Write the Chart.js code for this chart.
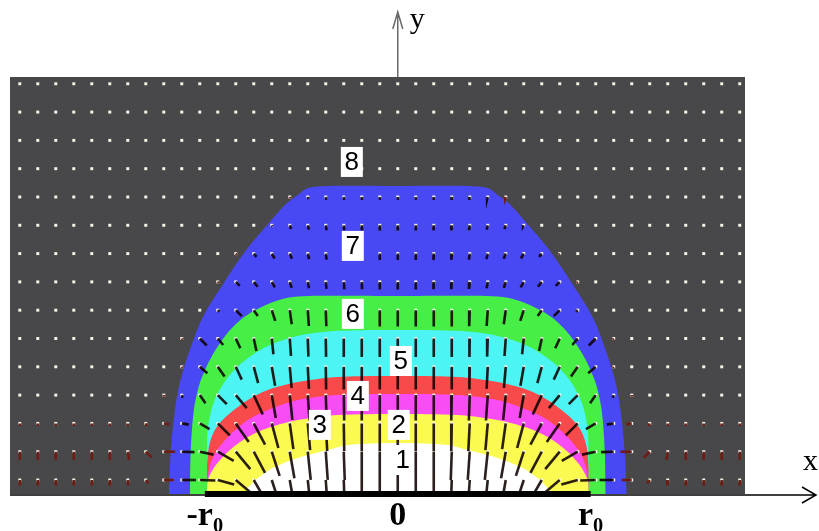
<!DOCTYPE html>
<html>
<head>
<meta charset="utf-8">
<script src="https://cdn.jsdelivr.net/npm/chart.js@4.4.1/dist/chart.umd.min.js"></script>
<style>
  html, body { margin: 0; padding: 0; background: #fff; }
  #wrap { position: relative; width: 819px; height: 531px; }
</style>
</head>
<body>
<div id="wrap"><canvas id="campo"></canvas></div>
<script>
// all distances in units of the disc radius r0
const xMin = -2.01, xMax = 1.80, yMax = 2.16;
const tickVals = [-1, 0, 1];
const tickText = ['-r₀', '0', 'r₀'];

// sampling lattice of the field
const colStep = 0.0933, rowStep = 0.1466, rowStart = 0.0725;
const colFirst = -21, colLast = 19, rowCount = 15;

// level boundaries, right half, [half width, height] from the top down to the disc
const edge7 = [[0, 1.596], [0.363, 1.596], [0.466, 1.585], [0.518, 1.549], [0.585, 1.497], [0.663, 1.409],
  [0.777, 1.275], [0.902, 1.093], [1.010, 0.917], [1.078, 0.746], [1.130, 0.575], [1.155, 0.435], [1.176, 0.228], [1.187, 0]];
const edge6 = [[0, 1.026], [0.466, 1.026], [0.570, 1.016], [0.684, 0.979], [0.803, 0.912], [0.891, 0.824],
  [0.969, 0.705], [1.026, 0.575], [1.057, 0.435], [1.073, 0.228], [1.078, 0]];
const edge5 = [[0, 0.850], [0.311, 0.845], [0.518, 0.819], [0.674, 0.767], [0.803, 0.684], [0.891, 0.591],
  [0.953, 0.477], [0.984, 0.342], [0.990, 0.202], [0.990, 0]];
const edge4 = [[0, 0.611], [0.311, 0.606], [0.518, 0.580], [0.674, 0.539], [0.777, 0.487], [0.881, 0.409],
  [0.948, 0.332], [0.979, 0.244], [0.990, 0.124], [0.990, 0]];
const edge3 = [[0, 0.518], [0.311, 0.513], [0.518, 0.487], [0.674, 0.435], [0.777, 0.383], [0.870, 0.306],
  [0.943, 0.218], [0.979, 0.124], [0.990, 0]];
const edge2 = [[0, 0.415], [0.311, 0.409], [0.518, 0.383], [0.674, 0.342], [0.777, 0.295], [0.870, 0.228],
  [0.943, 0.150], [0.984, 0.073], [0.990, 0]];
const edge1 = [[0, 0.264], [0.259, 0.254], [0.363, 0.228], [0.518, 0.187], [0.648, 0.135], [0.725, 0.083],
  [0.777, 0.031], [0.788, 0]];

const levelEdges = [edge7, edge6, edge5, edge4, edge3, edge2, edge1];
const levelColors = ['#4848f4', '#46ee46', '#4cf4f4', '#f84a4a', '#f84cf4', '#fafa50', '#ffffff'];
const outsideColor = '#48484a';

// field strength (in row steps) and tilt towards the axis (degrees from straight down),
// rows from the disc upward, columns from the axis outward; missing columns carry no field
const fieldLen = [
  [1.0, 1.0, 1.0, 1.0, 1.0, 1.0, 0.95, 0.9, 0.85, 0.75, 0.6, 0.55, 0.5, 0.35, 0.15, 0.2, 0.2, 0.2, 0.2, 0.2, 0.2, 0.2],
  [1.0, 1.0, 1.0, 1.0, 1.0, 1.0, 0.95, 0.9, 0.85, 0.8, 0.65, 0.5, 0.45, 0.4, 0.3, 0.3, 0.3, 0.3, 0.3, 0.3, 0.3, 0.3],
  [0.98, 0.98, 0.98, 0.98, 0.98, 0.95, 0.92, 0.9, 0.85, 0.8, 0.6, 0.4, 0.25, 0.2, 0.1, 0.08, 0.08, 0.08, 0.08, 0.08, 0.08, 0.08],
  [0.9, 0.9, 0.9, 0.9, 0.9, 0.9, 0.88, 0.82, 0.75, 0.6, 0.45, 0.35, 0.1, 0.05],
  [0.8, 0.8, 0.8, 0.8, 0.8, 0.78, 0.75, 0.68, 0.6, 0.5, 0.42, 0.35, 0.05],
  [0.65, 0.65, 0.65, 0.65, 0.65, 0.64, 0.62, 0.56, 0.45, 0.38, 0.3, 0.35, 0.05],
  [0.58, 0.58, 0.58, 0.58, 0.57, 0.56, 0.5, 0.4, 0.25, 0.3, 0.08],
  [0.27, 0.27, 0.26, 0.26, 0.25, 0.23, 0.22, 0.22, 0.22, 0.2, 0.05],
  [0.23, 0.23, 0.23, 0.22, 0.22, 0.2, 0.2, 0.2, 0.15, 0.05],
  [0.18, 0.18, 0.18, 0.18, 0.18, 0.16, 0.14, 0.05],
  [0.1, 0.1, 0.1, 0.1, 0.1, 0.08, 0.05]
];
const fieldTilt = [
  [0, 0, 0, 2, 4, 6, 10, 18, 30, 50, 75, 88, 90, 90, 40, 5],
  [0, 0, 0, 2, 4, 6, 10, 18, 28, 40, 60, 78, 88, 90, 45, 10],
  [0, 0, 0, 1, 3, 5, 8, 15, 28, 35, 45, 60, 80, 80, 20],
  [0, 0, 0, 1, 2, 4, 6, 10, 25, 40, 45, 35, 20],
  [0, 0, 0, 0, 1, 3, 5, 10, 15, 25, 35, 50, 40],
  [0, 0, 0, 0, 1, 2, 4, 6, 12, 25, 40, 45, 40],
  [0, 0, 0, 0, 2, 4, 8, 18, 35, 45, 45],
  [0, 0, 2, 4, 6, 10, 18, 30, 38, 45, 45],
  [0, 0, 2, 4, 8, 14, 22, 30, 40, 45],
  [0, 0, 2, 5, 10, 15, 20, 30],
  [0, 0, 3, 6, 10, 15, 20]
];

// level numbers written on the plot
const levelText = ['1', '2', '3', '4', '5', '6', '7', '8'];
const levelX = [0.026, 0.005, -0.404, -0.207, 0.016, -0.233, -0.233, -0.238];
const levelY = [0.176, 0.358, 0.358, 0.508, 0.689, 0.933, 1.285, 1.720];

const discX = [-1, 1];

// closed dome outline from a right-half boundary
function dome(edge) {
  const left = edge.slice(1).reverse().map(p => ({ x: -p[0], y: p[1] }));
  const right = edge.map(p => ({ x: p[0], y: p[1] }));
  return left.concat(right);
}

function halfWidth(edge, y) {
  if (y > edge[0][1]) return -1;
  for (let i = 0; i < edge.length - 1; i++) {
    const a = edge[i], b = edge[i + 1];
    if (y <= a[1] && y >= b[1]) {
      const t = a[1] === b[1] ? 1 : (a[1] - y) / (a[1] - b[1]);
      return a[0] + t * (b[0] - a[0]);
    }
  }
  return edge[edge.length - 1][0];
}

let dots = [];
let arrows = [];
for (let j = 0; j < rowCount; j++) {
  const y = rowStart + j * rowStep;
  for (let k = colFirst; k <= colLast; k++) {
    const x = k * colStep;
    dots.push({ x: x, y: y });
    const len = (fieldLen[j] || [])[Math.abs(k)] || 0;
    if (len <= 0) continue;
    const a = ((fieldTilt[j] || [])[Math.abs(k)] || 0) * Math.PI / 180;
    const side = k > 0 ? -1 : 1;
    arrows.push({ x: x, y: y });
    arrows.push({ x: x + side * len * rowStep * Math.sin(a), y: y - len * rowStep * Math.cos(a) });
    arrows.push({ x: null, y: null });
  }
}

let datasets = levelEdges.map((edge, i) => ({
  data: dome(edge),
  borderWidth: 0,
  borderColor: levelColors[i],
  backgroundColor: levelColors[i],
  fill: 'origin',
  tension: 0.3,
  pointRadius: 0,
  order: 100 - i
}));

datasets.push({
  data: dots,
  showLine: false,
  pointStyle: 'rect',
  pointRadius: 2.1,
  pointBorderWidth: 0,
  pointBackgroundColor: 'rgba(255,255,240,0.95)',
  order: 20
});

datasets.push({
  data: arrows,
  borderWidth: 2.6,
  borderCapStyle: 'butt',
  pointRadius: 0,
  spanGaps: false,
  tension: 0,
  fill: false,
  segment: {
    borderColor: c => Math.abs(c.p0.parsed.x) <= halfWidth(edge7, c.p0.parsed.y) ? 'rgba(15,0,0,0.88)' : '#6e1c14'
  },
  order: 10
});

datasets.push({
  data: discX.map(x => ({ x: x, y: 0 })),
  borderColor: '#000',
  borderWidth: 6,
  borderCapStyle: 'butt',
  pointRadius: 0,
  clip: false,
  order: 0
});

const plotBack = {
  id: 'plotBack',
  beforeDatasetsDraw(chart) {
    const { ctx, chartArea: a } = chart;
    ctx.save();
    ctx.fillStyle = outsideColor;
    ctx.fillRect(a.left, a.top, a.right - a.left, a.bottom - a.top);
    ctx.restore();
  },
  afterDatasetsDraw(chart) {
    const { ctx, chartArea: a, scales } = chart;
    const x0 = scales.x.getPixelForValue(0);
    const yb = scales.y.getPixelForValue(0) + 1;
    ctx.save();
    // y axis above the plot
    ctx.strokeStyle = '#6a6a6a';
    ctx.lineWidth = 1.5;
    ctx.beginPath();
    ctx.moveTo(x0, a.top);
    ctx.lineTo(x0, 12);
    ctx.moveTo(x0 - 5, 29);
    ctx.lineTo(x0, 12);
    ctx.lineTo(x0 + 5, 29);
    ctx.stroke();
    // x axis along the disc
    ctx.strokeStyle = '#000';
    ctx.beginPath();
    ctx.moveTo(a.left, yb);
    ctx.lineTo(816, yb);
    ctx.moveTo(802, yb - 8);
    ctx.lineTo(816, yb);
    ctx.lineTo(802, yb + 8);
    ctx.stroke();
    ctx.fillStyle = '#000';
    ctx.font = '30px "Liberation Serif", "DejaVu Serif", serif';
    ctx.textBaseline = 'alphabetic';
    ctx.textAlign = 'left';
    ctx.fillText('y', x0 + 12, 28);
    ctx.fillText('x', 803, 470);

    // level numbers
    ctx.font = '26px "Liberation Sans Narrow", "Liberation Sans", sans-serif';
    ctx.textAlign = 'center';
    ctx.textBaseline = 'middle';
    levelText.forEach((t, i) => {
      const px = scales.x.getPixelForValue(levelX[i]);
      const py = scales.y.getPixelForValue(levelY[i]);
      ctx.fillStyle = '#fff';
      ctx.fillRect(px - 11, py - 15, 22, 30);
      ctx.fillStyle = '#000';
      ctx.fillText(t, px, py + 1);
    });
    ctx.restore();
  }
};

new Chart(document.getElementById('campo'), {
  type: 'line',
  data: { datasets: datasets },
  options: {
    responsive: true,
    maintainAspectRatio: false,
    animation: false,
    layout: { padding: { left: 10, right: 74, top: 77, bottom: 0 } },
    plugins: { legend: { display: false }, tooltip: { enabled: false } },
    scales: {
      x: {
        type: 'linear',
        min: xMin,
        max: xMax,
        grid: { display: false, drawTicks: false },
        border: { display: false },
        afterBuildTicks: axis => { axis.ticks = tickVals.map(v => ({ value: v })); },
        afterFit: axis => { axis.height = 37; },
        ticks: {
          autoSkip: false,
          maxRotation: 0,
          padding: 2,
          color: '#000',
          font: { family: '"Liberation Serif", "DejaVu Serif", serif', size: 34, weight: 'bold' },
          callback: (v, i) => tickText[i]
        }
      },
      y: {
        type: 'linear',
        min: 0,
        max: yMax,
        display: false
      }
    }
  },
  plugins: [plotBack]
});
</script>
</body>
</html>
